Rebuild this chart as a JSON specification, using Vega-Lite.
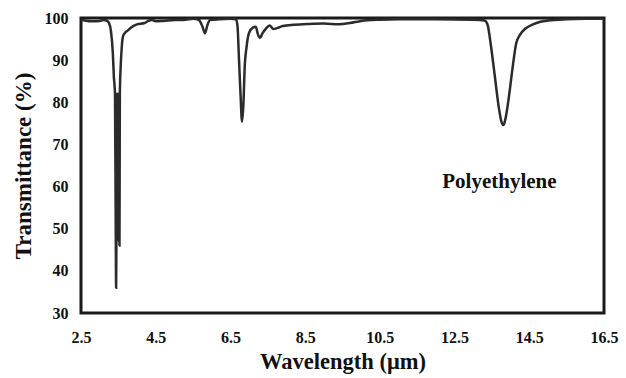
{
  "$schema": "https://vega.github.io/schema/vega-lite/v6.json",
  "width": 523,
  "height": 295,
  "autosize": {"type": "none"},
  "padding": {"left": 81, "top": 18, "right": 22, "bottom": 65},
  "background": "white",
  "config": {
    "view": {"stroke": "#1a1a1a", "strokeWidth": 3},
    "font": "Liberation Serif"
  },
  "datasets": {
    "spectrum": [
      {"wl": 2.5, "t": 99.6}, {"wl": 2.6, "t": 99.4}, {"wl": 2.8, "t": 99.2}, {"wl": 3.0, "t": 99.3},
      {"wl": 3.1, "t": 99.5}, {"wl": 3.2, "t": 99.3}, {"wl": 3.25, "t": 98.8}, {"wl": 3.3, "t": 97},
      {"wl": 3.35, "t": 92}, {"wl": 3.38, "t": 86}, {"wl": 3.41, "t": 82}, {"wl": 3.43, "t": 50},
      {"wl": 3.44, "t": 36}, {"wl": 3.45, "t": 50}, {"wl": 3.46, "t": 82}, {"wl": 3.47, "t": 50},
      {"wl": 3.48, "t": 82}, {"wl": 3.49, "t": 48}, {"wl": 3.5, "t": 82}, {"wl": 3.51, "t": 47},
      {"wl": 3.52, "t": 82}, {"wl": 3.53, "t": 46}, {"wl": 3.54, "t": 82}, {"wl": 3.56, "t": 88},
      {"wl": 3.59, "t": 93}, {"wl": 3.63, "t": 95.8},
      {"wl": 3.68, "t": 96.5}, {"wl": 3.75, "t": 97}, {"wl": 3.85, "t": 97.8}, {"wl": 4.0, "t": 98.5},
      {"wl": 4.2, "t": 98.8}, {"wl": 4.3, "t": 99.3}, {"wl": 4.4, "t": 99.5}, {"wl": 4.5, "t": 99.2},
      {"wl": 4.7, "t": 99.3}, {"wl": 5.0, "t": 99.5}, {"wl": 5.3, "t": 99.6}, {"wl": 5.5, "t": 99.8},
      {"wl": 5.65, "t": 99.6}, {"wl": 5.75, "t": 98}, {"wl": 5.82, "t": 96.4}, {"wl": 5.88, "t": 98.2},
      {"wl": 5.95, "t": 99.5}, {"wl": 6.2, "t": 99.7}, {"wl": 6.5, "t": 99.8}, {"wl": 6.65, "t": 99.7},
      {"wl": 6.69, "t": 98}, {"wl": 6.73, "t": 90}, {"wl": 6.77, "t": 82}, {"wl": 6.81, "t": 75.4},
      {"wl": 6.85, "t": 80}, {"wl": 6.88, "t": 88}, {"wl": 6.93, "t": 93}, {"wl": 7.0, "t": 96.5},
      {"wl": 7.1, "t": 97.7}, {"wl": 7.18, "t": 97.9}, {"wl": 7.23, "t": 96.3}, {"wl": 7.29, "t": 95.3},
      {"wl": 7.36, "t": 96.4}, {"wl": 7.45, "t": 97.5}, {"wl": 7.55, "t": 98.2}, {"wl": 7.65, "t": 97.4},
      {"wl": 7.75, "t": 97.6}, {"wl": 7.9, "t": 98.1}, {"wl": 8.2, "t": 98.4}, {"wl": 8.6, "t": 98.6},
      {"wl": 9.0, "t": 98.7}, {"wl": 9.4, "t": 98.5}, {"wl": 9.7, "t": 98.8}, {"wl": 10.0, "t": 99.3},
      {"wl": 10.5, "t": 99.6}, {"wl": 11.0, "t": 99.7}, {"wl": 12.0, "t": 99.7}, {"wl": 13.0, "t": 99.6},
      {"wl": 13.3, "t": 99.4}, {"wl": 13.38, "t": 98.5}, {"wl": 13.48, "t": 93}, {"wl": 13.58, "t": 86},
      {"wl": 13.68, "t": 79}, {"wl": 13.76, "t": 75.2}, {"wl": 13.81, "t": 74.6}, {"wl": 13.86, "t": 76},
      {"wl": 13.95, "t": 81}, {"wl": 14.05, "t": 88}, {"wl": 14.15, "t": 94}, {"wl": 14.25, "t": 96},
      {"wl": 14.4, "t": 97.5}, {"wl": 14.6, "t": 98.5}, {"wl": 14.8, "t": 99.1}, {"wl": 15.0, "t": 99.4},
      {"wl": 15.5, "t": 99.7}, {"wl": 16.0, "t": 99.8}, {"wl": 16.5, "t": 99.8}
    ],
    "label": [{"wl": 13.7, "t": 61.2, "name": "Polyethylene"}]
  },
  "encoding": {
    "x": {
      "field": "wl", "type": "quantitative",
      "scale": {"domain": [2.5, 16.5], "nice": false, "zero": false},
      "axis": {
        "title": "Wavelength (μm)",
        "values": [2.5, 4.5, 6.5, 8.5, 10.5, 12.5, 14.5, 16.5],
        "format": ".1f",
        "domain": false, "ticks": false, "grid": false,
        "labelFont": "Liberation Serif", "labelFontWeight": "bold", "labelFontSize": 16,
        "labelColor": "#111", "labelPadding": 16, "labelFlush": false,
        "titleFont": "Liberation Serif", "titleFontWeight": "bold", "titleFontSize": 22.5,
        "titleColor": "#111", "titlePadding": 5
      }
    },
    "y": {
      "field": "t", "type": "quantitative",
      "scale": {"domain": [30, 100], "nice": false, "zero": false},
      "axis": {
        "title": "Transmittance (%)",
        "values": [30, 40, 50, 60, 70, 80, 90, 100],
        "domain": false, "ticks": false, "grid": false,
        "labelFont": "Liberation Serif", "labelFontWeight": "bold", "labelFontSize": 16,
        "labelColor": "#111", "labelPadding": 13, "labelFlush": false,
        "titleFont": "Liberation Serif", "titleFontWeight": "bold", "titleFontSize": 23,
        "titleColor": "#111", "titlePadding": 9
      }
    }
  },
  "layer": [
    {
      "data": {"name": "spectrum"},
      "mark": {"type": "line", "color": "#2b2b2b", "strokeWidth": 2.5, "clip": true, "interpolate": "monotone"}
    },
    {
      "data": {"name": "label"},
      "mark": {"type": "text", "font": "Liberation Serif", "fontWeight": "bold", "fontSize": 21, "color": "#111", "align": "center", "baseline": "middle"},
      "encoding": {"text": {"field": "name", "type": "nominal"}}
    }
  ]
}
